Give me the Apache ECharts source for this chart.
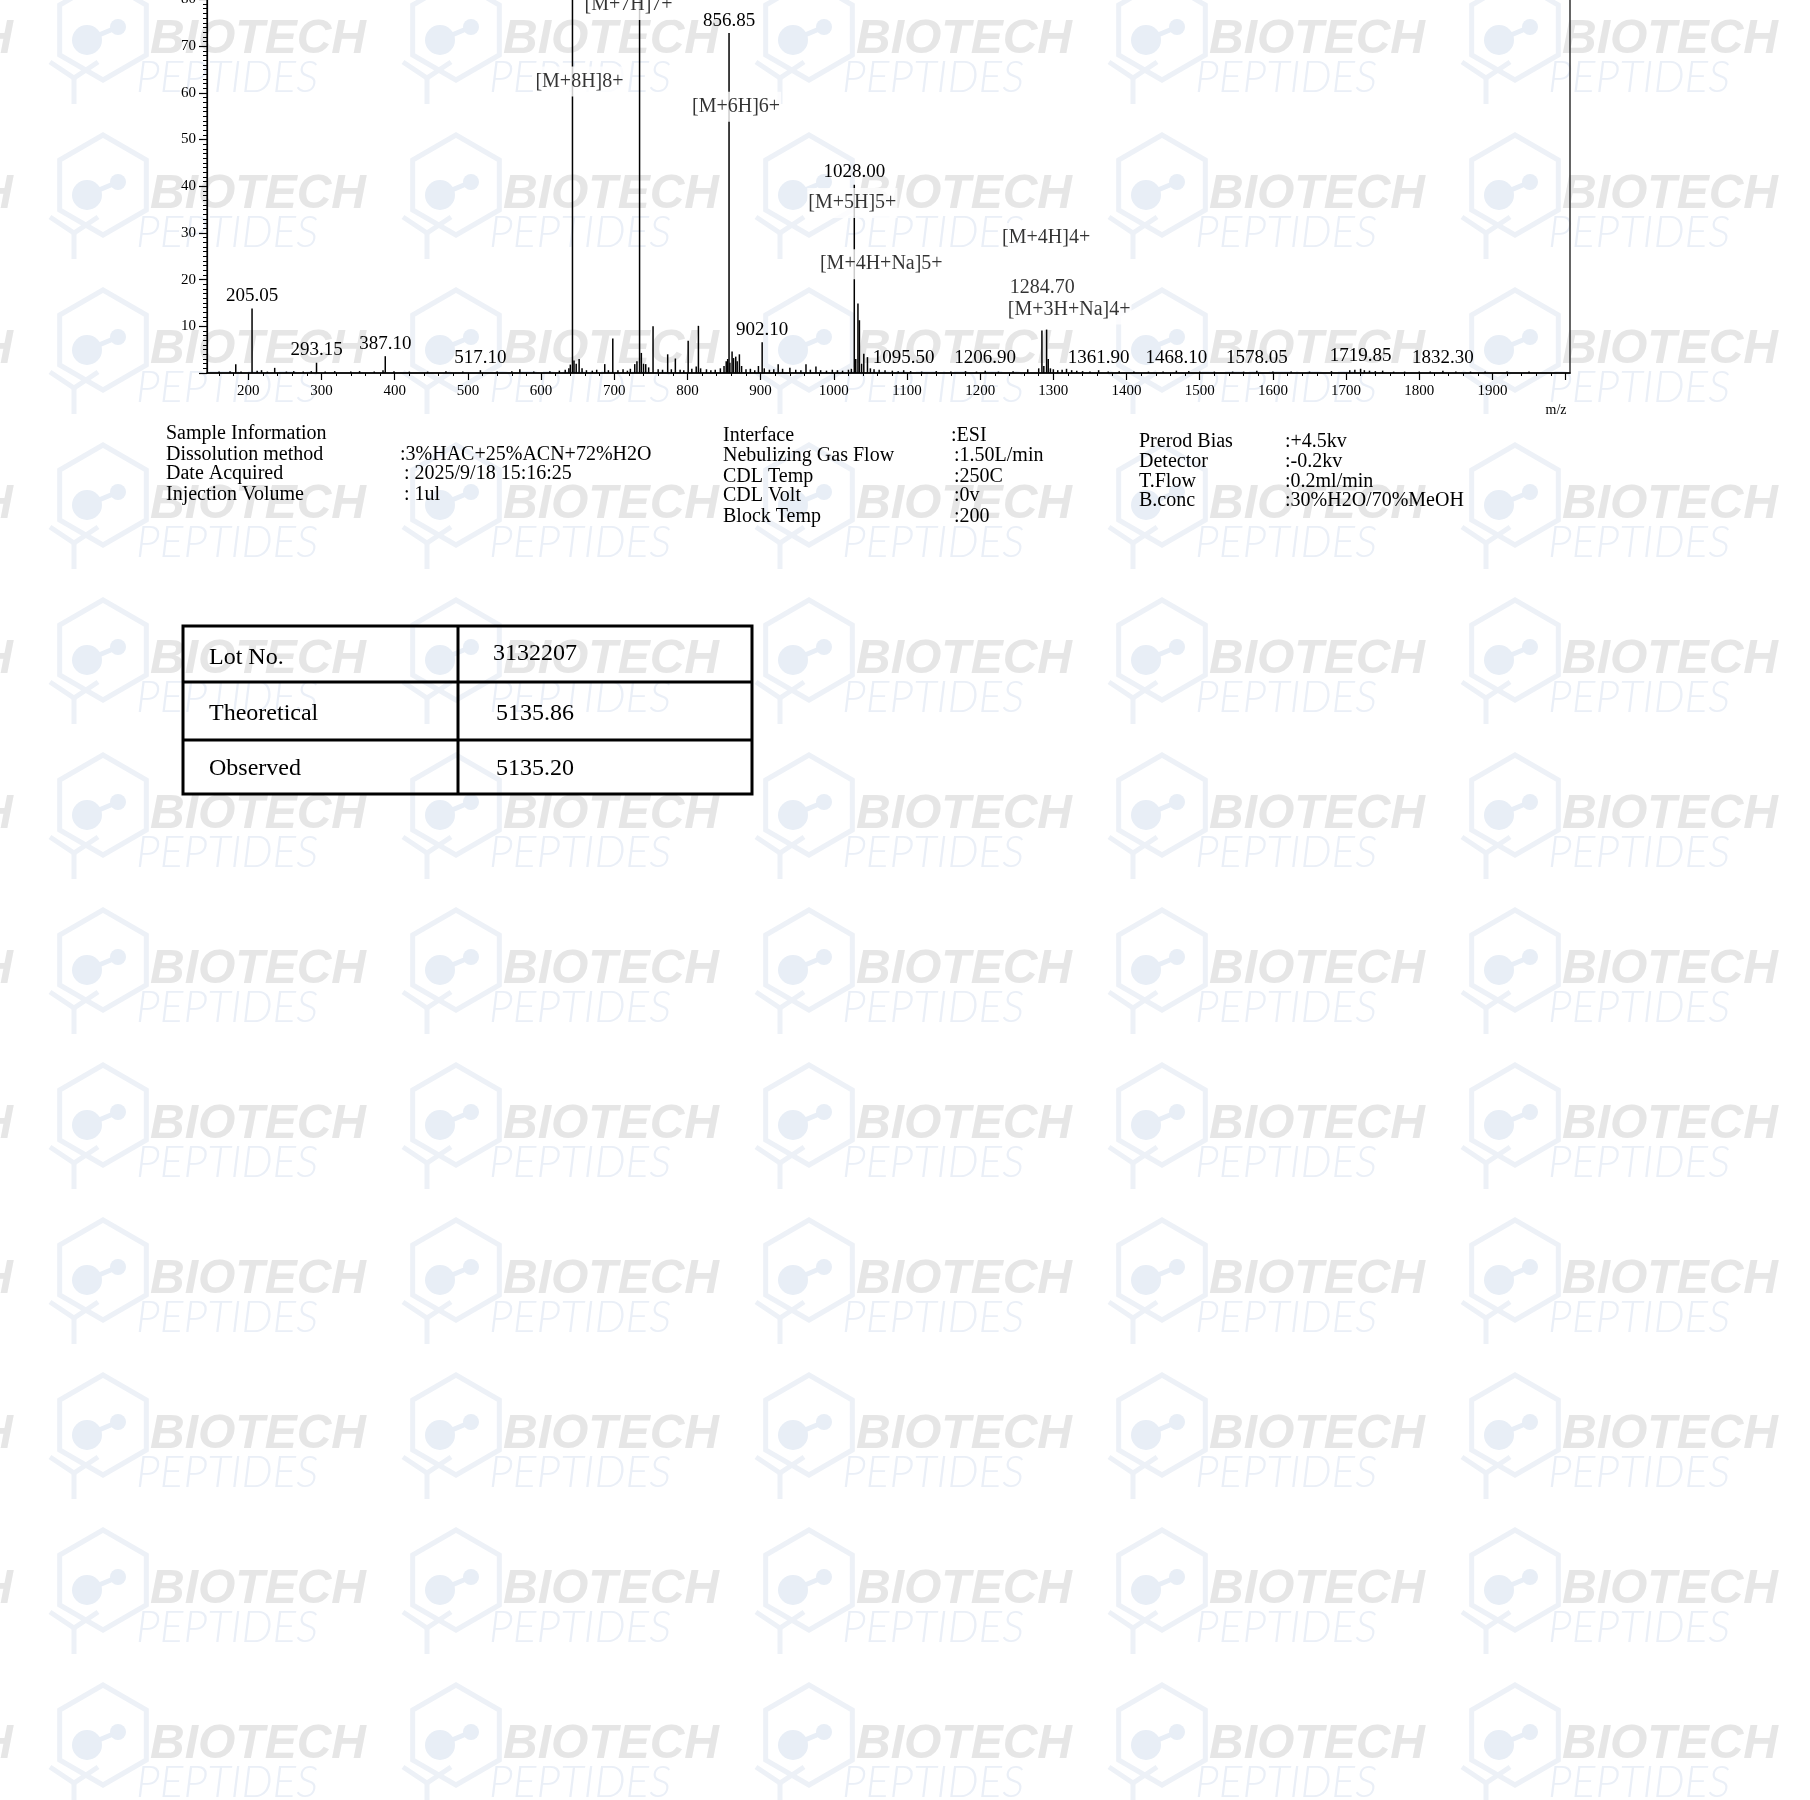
<!DOCTYPE html>
<html><head><meta charset="utf-8">
<script src="https://cdn.jsdelivr.net/npm/echarts@6/dist/echarts.min.js"></script>
<style>html,body{margin:0;padding:0;background:#fff}#c{width:1810px;height:1800px}</style>
</head><body><div id="c"></div>
<script>
// ---------- axis ticks ----------
const xLabelValues = [200,300,400,500,600,700,800,900,1000,1100,1200,1300,1400,1500,1600,1700,1800,1900];
const xMajorTickValues = [200,300,400,500,600,700,800,900,1000,1100,1200,1300,1400,1500,1600,1700,1800,1900,2000];

// ---------- labelled peaks (label sits on top of the peak) ----------
const labelledMz = [205.05, 293.15, 387.10, 517.10, 856.85, 902.10, 1028.00, 1095.50, 1206.90, 1361.90, 1468.10, 1578.05, 1719.85, 1832.30];
const labelledIntensity = [13.8, 2.2, 3.6, 0.6, 72.8, 6.6, 40.3, 0.6, 0.5, 0.6, 0.5, 0.5, 0.9, 0.5];
const labelledText = ['205.05','293.15','387.10','517.10','856.85','902.10','1028.00','1095.50','1206.90','1361.90','1468.10','1578.05','1719.85','1832.30'];

// ---------- unlabelled peaks ----------
const otherMz = [642.90, 734.60, 1284.40, 1290.80,
  160,175,182.8,190,212,218,226,236,252,262,275,286,305,318,340,352,372,384,399,420,445,470,493,540,560,571,590,612,625,633,638,640,645,648,652,656,662,670,676,687,692,698,705,712,718,722,728,731,737,740,743,747,753,760,766,773,778,783.5,790,795,801,806,812,815,818,826,832,838,845,850,853,855,858,861,863,866,868,871,874,880,886,892,897,905,912,918,924,930,940,948,955,962,968,975.6,982,990,998,1005,1012,1020,1024,1030,1033,1035,1038,1041,1046,1050,1055,1062,1070,1080,1088,1105,1120,1140,1160,1180,1195,1225,1245,1265,1280,1287,1293,1296,1300,1306,1312,1318,1325,1332,1340,1350,1375,1390,1410,1430,1450,1485,1500,1520,1545,1560,1600,1625,1650,1680,1705,1712,1725,1732,1740,1750,1765,1780,1800,1815,1850,1870,1890,1920,1950,1975];
const otherIntensity = [100, 88, 9.1, 9.3,
  0.3,0.4,1.9,0.3,0.5,0.6,0.3,1.1,0.3,0.4,0.3,0.4,0.3,0.4,0.3,0.4,0.3,0.6,0.4,0.3,0.3,0.4,0.3,0.3,0.4,0.8,0.3,0.4,0.5,0.7,1.0,1.8,2.7,2.0,3.0,1.0,0.6,0.5,0.7,1.9,0.6,7.4,0.6,0.8,0.5,0.9,1.9,2.5,4.3,2.0,1.9,1.2,10.0,0.8,0.7,4.0,0.8,3.1,0.7,0.6,6.9,0.9,1.4,10.1,1.0,0.8,0.6,0.7,1.0,1.5,2.5,3.0,2.2,4.6,3.2,3.5,2.5,4.0,1.5,0.8,0.9,0.6,1.5,1.0,0.7,0.8,1.9,0.9,1.1,0.7,0.6,1.9,0.7,1.4,0.6,0.5,0.7,0.6,0.5,0.7,0.9,3.0,14.9,11.3,2.0,4.1,3.4,1.0,0.8,0.7,0.6,0.5,0.4,0.4,0.3,0.4,0.3,0.4,0.3,0.3,0.4,0.8,1.0,1.5,3.0,1.0,0.8,0.6,0.7,0.9,0.6,0.5,0.4,0.3,0.3,0.4,0.3,0.3,0.3,0.4,0.3,0.3,0.3,0.3,0.3,0.3,0.3,0.4,0.6,0.7,0.6,0.5,0.4,0.5,0.3,0.3,0.3,0.3,0.3,0.3,0.3,0.3,0.3];

// ---------- floating annotations ----------
const annotMz = [642.90, 734.60, 856.85, 1028.00, 1028.00, 1284.70, 1284.70, 1284.70];
const annotLevel = [62.4, 78.8, 57.0, 36.4, 23.3, 28.9, 18.3, 13.6];
const annotText = ['[M+8H]8+', '[M+7H]7+', '[M+6H]6+', '[M+5H]5+', '[M+4H+Na]5+', '[M+4H]4+', '1284.70', '[M+3H+Na]4+'];

// ---------- info block and table ----------
const sampleKeys = ['Sample Information', 'Dissolution method', 'Date Acquired', 'Injection Volume'];
const sampleVals = ['', ':3%HAC+25%ACN+72%H2O', ': 2025/9/18 15:16:25', ': 1ul'];
const instKeys = ['Interface', 'Nebulizing Gas Flow', 'CDL Temp', 'CDL Volt', 'Block Temp'];
const instVals = [':ESI', ':1.50L/min', ':250C', ':0v', ':200'];
const lcKeys = ['Prerod Bias', 'Detector', 'T.Flow', 'B.conc'];
const lcVals = [':+4.5kv', ':-0.2kv', ':0.2ml/min', ':30%H2O/70%MeOH'];
const tableKeys = ['Lot No.', 'Theoretical', 'Observed'];
const tableVals = ['3132207', '5135.86', '5135.20'];

// ---------- build ----------
const SERIF = '"Liberation Serif", "Times New Roman", serif';
const minorTicks = [];
for (let v = 160; v <= 2000; v += 20) if (v % 100 !== 0) minorTicks.push(v);

const barData = [];
otherMz.forEach((m, i) => barData.push({ value: [m, otherIntensity[i]] }));
labelledMz.forEach((m, i) => barData.push({ value: [m, labelledIntensity[i]], label: { show: true, formatter: labelledText[i] } }));

const annotOffsets = [[7,0],[-11,0],[7,0],[-2,0],[27,0],[4,0],[0,0],[27,0]];
const annotData = annotMz.map((m, i) => ({
  value: [m, annotLevel[i]],
  label: { formatter: annotText[i], offset: annotOffsets[i] }
}));

const graphics = [];
// watermark tiles
const wmBlue = '#e8eef6';
const wmLine = '#edf1f7';
for (let r = 0; r < 12; r++) {
  const By = 40 + 155 * r;
  for (let c = -1; c < 5; c++) {
    const Bx = 150 + 353 * c;
    const cx = Bx - 47, cy = By - 10, R = 50;
    const pts = [];
    for (let k = 0; k < 6; k++) { const a = (-90 + 60 * k) * Math.PI / 180; pts.push([cx + R * Math.cos(a), cy + R * Math.sin(a)]); }
    graphics.push({ type: 'polygon', z: -20, silent: true, shape: { points: pts }, style: { fill: 'none', stroke: wmLine, lineWidth: 5 } });
    graphics.push({ type: 'line', z: -20, silent: true, shape: { x1: Bx - 63, y1: By, x2: Bx - 32, y2: By - 13 }, style: { stroke: wmBlue, lineWidth: 5 } });
    graphics.push({ type: 'circle', z: -20, silent: true, shape: { cx: Bx - 63, cy: By, r: 15 }, style: { fill: wmBlue } });
    graphics.push({ type: 'circle', z: -20, silent: true, shape: { cx: Bx - 32, cy: By - 13, r: 8 }, style: { fill: wmBlue } });
    graphics.push({ type: 'polyline', z: -20, silent: true, shape: { points: [[Bx - 100, By + 22], [Bx - 76, By + 38], [Bx - 52, By + 22]] }, style: { fill: 'none', stroke: wmLine, lineWidth: 5 } });
    graphics.push({ type: 'line', z: -20, silent: true, shape: { x1: Bx - 76, y1: By + 38, x2: Bx - 76, y2: By + 64 }, style: { stroke: wmLine, lineWidth: 5 } });
    graphics.push({ type: 'text', z: -20, silent: true, x: Bx, y: By, style: { text: 'BIOTECH', font: 'italic bold 48px "Liberation Sans", Arial, sans-serif', fill: '#e6e6e6', textAlign: 'left', textVerticalAlign: 'middle' } });
    graphics.push({ type: 'text', z: -20, silent: true, x: Bx - 14, y: By + 38, style: { text: 'PEPTIDES', font: 'italic 300 44px Lato, "Liberation Sans", sans-serif', fill: '#eaeff7', textAlign: 'left', textVerticalAlign: 'middle' } });
  }
}
function txt(x, y, t, size) {
  graphics.push({ type: 'text', z: 10, x: x, y: y, style: { text: t, font: size + 'px ' + SERIF, fill: '#000', textAlign: 'left', textVerticalAlign: 'middle' } });
}
const sampleY = [434, 455, 474, 495];
sampleKeys.forEach((k, i) => { txt(166, sampleY[i], k, 20); if (sampleVals[i]) txt(i === 1 ? 400 : 404, sampleY[i], sampleVals[i], 20); });
const instY = [436, 456, 477, 496, 517];
instKeys.forEach((k, i) => { txt(723, instY[i], k, 20); txt(i === 0 ? 951 : 954, instY[i], instVals[i], 20); });
const lcY = [442, 462, 482, 501];
lcKeys.forEach((k, i) => { txt(1139, lcY[i], k, 20); txt(1285, lcY[i], lcVals[i], 20); });
// table
graphics.push({ type: 'rect', z: 10, shape: { x: 183, y: 626, width: 569, height: 168 }, style: { fill: 'none', stroke: '#000', lineWidth: 3 } });
graphics.push({ type: 'line', z: 10, shape: { x1: 458, y1: 626, x2: 458, y2: 794 }, style: { stroke: '#000', lineWidth: 3 } });
graphics.push({ type: 'line', z: 10, shape: { x1: 183, y1: 682, x2: 752, y2: 682 }, style: { stroke: '#000', lineWidth: 3 } });
graphics.push({ type: 'line', z: 10, shape: { x1: 183, y1: 740, x2: 752, y2: 740 }, style: { stroke: '#000', lineWidth: 3 } });
const tableY = [658, 714, 769];
const tableValY = [654, 714, 769];
tableKeys.forEach((k, i) => { txt(209, tableY[i], k, 24); txt(i === 0 ? 493 : 496, tableValY[i], tableVals[i], 24); });

const chart = echarts.init(document.getElementById('c'), null, { renderer: 'canvas' });
chart.setOption({
  animation: false,
  backgroundColor: '#fff',
  grid: { left: 207, right: 240, top: -94, bottom: 1427, show: true, borderColor: '#333', borderWidth: 1.5, backgroundColor: 'transparent', containLabel: false, outerBoundsMode: 'none' },
  xAxis: [{
    type: 'value', min: 143.5, max: 2006, position: 'bottom',
    name: 'm/z', nameLocation: 'end', nameGap: -14,
    nameTextStyle: { fontFamily: SERIF, fontSize: 14, color: '#000', align: 'center', verticalAlign: 'top', padding: [30, 0, 0, 0] },
    axisLine: { show: true, onZero: false, lineStyle: { color: '#000', width: 1.5 } },
    axisTick: { show: true, length: 7, customValues: xMajorTickValues, lineStyle: { color: '#000', width: 1.2 } },
    axisLabel: { show: true, customValues: xLabelValues, formatter: (v) => String(v), margin: 11, fontFamily: SERIF, fontSize: 15, color: '#000' },
    splitLine: { show: false }
  }, {
    type: 'value', min: 143.5, max: 2006, position: 'bottom',
    axisLine: { show: false },
    axisTick: { show: true, length: 3, customValues: minorTicks, lineStyle: { color: '#000', width: 1 } },
    axisLabel: { show: false },
    splitLine: { show: false }
  }],
  yAxis: {
    type: 'value', min: 0, max: 100, interval: 10,
    axisLine: { show: true, lineStyle: { color: '#000', width: 1.2 } },
    axisTick: { show: true, length: 8, lineStyle: { color: '#000', width: 1.2 } },
    minorTick: { show: true, splitNumber: 10, length: 4, lineStyle: { color: '#000', width: 1 } },
    axisLabel: { showMinLabel: false, margin: 11, fontFamily: SERIF, fontSize: 15, color: '#000' },
    splitLine: { show: false }, minorSplitLine: { show: false }
  },
  series: [{
    type: 'bar', name: 'spectrum', xAxisIndex: 0, yAxisIndex: 0, z: 3,
    barWidth: 1.5, itemStyle: { color: '#000' },
    label: { show: false, position: 'top', distance: 3, fontFamily: SERIF, fontSize: 19, color: '#000' },
    data: barData
  }, {
    type: 'scatter', name: 'annotations', xAxisIndex: 0, yAxisIndex: 0, z: 5,
    symbol: 'circle', symbolSize: 1, itemStyle: { color: 'rgba(0,0,0,0)' },
    label: { show: true, position: 'inside', fontFamily: SERIF, fontSize: 20, color: '#000', backgroundColor: '#fff', padding: [5, 1] },
    data: annotData
  }],
  graphic: { elements: graphics }
});
</script></body></html>
